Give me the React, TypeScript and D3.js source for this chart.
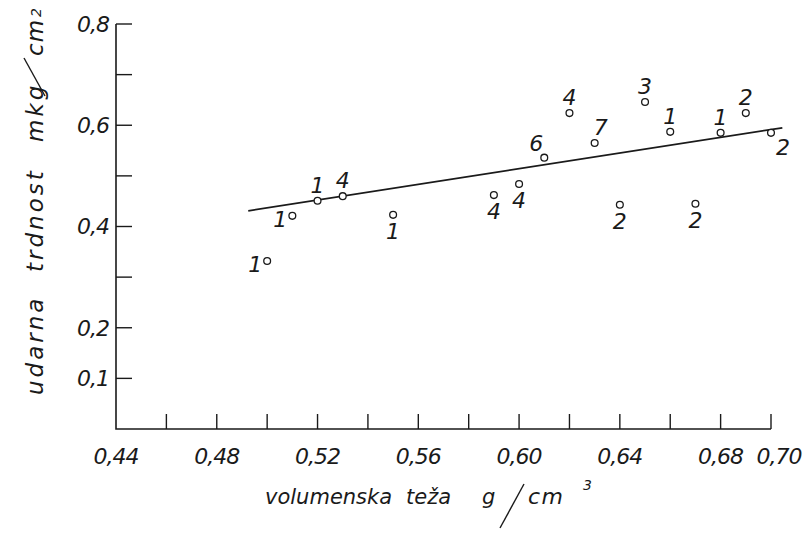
import React, { useEffect } from 'react'
import * as d3 from 'd3'

// volumenska teza (g/cm3) and udarna trdnost (mkg/cm2)
const density = [0.50, 0.51, 0.52, 0.53, 0.55, 0.59, 0.60, 0.61, 0.62, 0.63, 0.64, 0.65, 0.66, 0.67, 0.68, 0.69, 0.70]
const strength = [0.332, 0.421, 0.451, 0.460, 0.423, 0.462, 0.484, 0.536, 0.624, 0.565, 0.443, 0.646, 0.587, 0.445, 0.585, 0.624, 0.585]
const sampleCount = ['1', '1', '1', '4', '1', '4', '4', '6', '4', '7', '2', '3', '1', '2', '1', '2', '2']
// where the count sits next to the point
const labelSide = ['l', 'l', 'a', 'a', 'b', 'b', 'b', 'al', 'a', 'ar', 'b', 'a', 'a', 'b', 'a', 'a', 'br']

// fitted line ends
const fitX = [0.4925, 0.7045]
const fitY = [0.431, 0.595]

const xTicks = [0.46, 0.48, 0.50, 0.52, 0.54, 0.56, 0.58, 0.60, 0.62, 0.64, 0.66, 0.68, 0.70]
const xTickLabels = ['0,44', '0,48', '0,52', '0,56', '0,60', '0,64', '0,68', '0,70']
const xLabelValues = [0.44, 0.48, 0.52, 0.56, 0.60, 0.64, 0.68, 0.70]
const yTicks = [0.1, 0.2, 0.3, 0.4, 0.5, 0.6, 0.7, 0.8]
const yTickLabels = ['0,1', '0,2', '0,4', '0,6', '0,8']
const yLabelValues = [0.1, 0.2, 0.4, 0.6, 0.8]

const W = 809, H = 537
const FONT = '"DejaVu Sans", sans-serif'

const sideOffset: Record<string, [number, number]> = {
  l: [-12, 3],
  a: [0, -16],
  b: [0, 16],
  al: [-8, -15],
  ar: [6, -16],
  br: [12, 14],
}

export default function App() {
  useEffect(() => {
    document.body.style.margin = '0'
  }, [])

  const x = d3.scaleLinear().domain([0.44, 0.70]).range([116, 771])
  const y = d3.scaleLinear().domain([0, 0.8]).range([429, 24])

  const line = d3.line<number>()
    .x((d, i) => x(fitX[i]))
    .y(d => y(d))

  const ink = '#1a1a1a'

  return (
    <svg width={W} height={H} style={{ display: 'block', background: '#fff' }}>
      {/* axes */}
      <path d={`M${x(0.44)},${y(0.8)} L${x(0.44)},${y(0)} L${x(0.70)},${y(0)}`}
        fill="none" stroke={ink} strokeWidth={1.6} />
      {xTicks.map(t => (
        <line key={'xt' + t} x1={x(t)} x2={x(t)} y1={y(0)} y2={y(0) - 15} stroke={ink} strokeWidth={1.4} />
      ))}
      {yTicks.map(t => (
        <line key={'yt' + t} x1={x(0.44)} x2={x(0.44) + 16} y1={y(t)} y2={y(t)} stroke={ink} strokeWidth={1.4} />
      ))}
      {xTickLabels.map((s, i) => (
        <text key={'xl' + s} x={x(xLabelValues[i]) + (i === xTickLabels.length - 1 ? 8 : 0)} y={464}
          textAnchor="middle" fontFamily={FONT} fontStyle="italic" fontSize={22} fill={ink}
          letterSpacing={-1}>{s}</text>
      ))}
      {yTickLabels.map((s, i) => (
        <text key={'yl' + s} x={109} y={y(yLabelValues[i])} dy="0.36em"
          textAnchor="end" fontFamily={FONT} fontStyle="italic" fontSize={22} fill={ink}
          letterSpacing={-1}>{s}</text>
      ))}

      {/* x title */}
      <g fontFamily={FONT} fontStyle="italic" fontSize={21} fill={ink}>
        <text x={265} y={504}>volumenska</text>
        <text x={406} y={504}>teža</text>
        <text x={482} y={504}>g</text>
        <line x1={500} y1={528} x2={524} y2={484} stroke={ink} strokeWidth={1.4} />
        <text x={528} y={504} fontSize={22} letterSpacing={1.5}>cm</text>
        <text x={583} y={490} fontSize={14}>3</text>
      </g>

      {/* y title */}
      <g fontFamily={FONT} fontStyle="italic" fontSize={23} fill={ink} letterSpacing={3}>
        <text transform="translate(43,395) rotate(-90)">udarna</text>
        <text transform="translate(43,272) rotate(-90)">trdnost</text>
        <text transform="translate(43,142) rotate(-90)">mkg</text>
        <line x1={45} y1={96} x2={24} y2={58} stroke={ink} strokeWidth={1.4} />
        <text transform="translate(43,56) rotate(-90)" letterSpacing={1}>cm</text>
        <text transform="translate(41,17) rotate(-90)" fontSize={14} letterSpacing={0}>2</text>
      </g>

      {/* fit */}
      <path d={line(fitY) || ''} fill="none" stroke={ink} strokeWidth={1.8} />

      {/* points */}
      {density.map((d, i) => {
        const [dx, dy] = sideOffset[labelSide[i]]
        return (
          <g key={'p' + i}>
            <circle cx={x(d)} cy={y(strength[i])} r={3.4} fill="#fff" stroke={ink} strokeWidth={1.3} />
            <text x={x(d) + dx} y={y(strength[i]) + dy} dy="0.36em" textAnchor="middle"
              fontFamily={FONT} fontStyle="italic" fontSize={22} fill={ink}>{sampleCount[i]}</text>
          </g>
        )
      })}
    </svg>
  )
}
